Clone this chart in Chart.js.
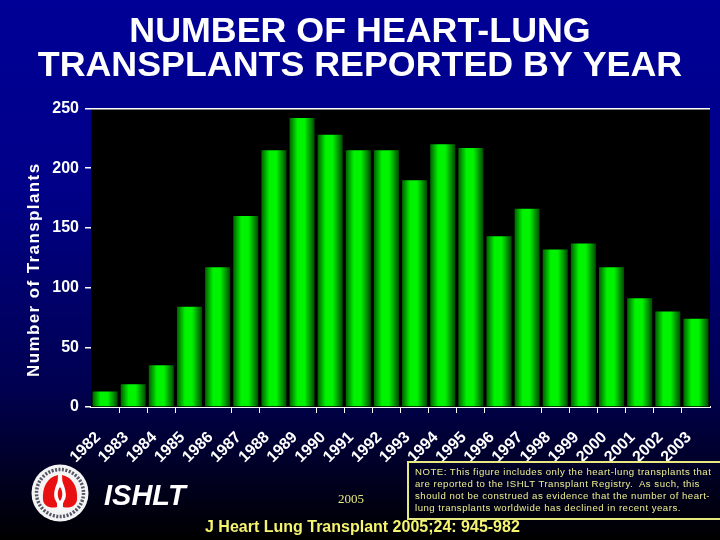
<!DOCTYPE html>
<html>
<head>
<meta charset="utf-8">
<title>Heart-lung transplants by year</title>
<script src="https://cdn.jsdelivr.net/npm/chart.js@4"></script>
<style>
    html, body { margin: 0; padding: 0; }
    body {
        width: 720px; height: 540px; overflow: hidden; position: relative;
        background: linear-gradient(to bottom, #000096 0%, #000088 35%, #000050 72%, #000000 100%);
        font-family: "Liberation Sans", Arial, sans-serif;
    }
    #wrap { position: absolute; left: 0; top: 0; width: 720px; height: 540px; }
    .txt { position: absolute; white-space: pre; }
    #ishlt { left: 104px; top: 479px; color: #fff; font: italic bold 29px "Liberation Sans"; }
    #year { left: 338px; top: 491px; color: #e8e880; font: 13px "Liberation Serif"; }
    #cite { left: 205px; top: 518px; color: #f4f470; font: bold 16px "Liberation Sans"; }
    #note {
        left: 407px; top: 461px; width: 307px; height: 52px; padding: 3px 0 0 6px;
        border: 2px solid #e8e880; color: #eeee90;
        font: 9.6px/12px "Liberation Sans"; letter-spacing: 0.5px;
    }
    #logo { position: absolute; left: 31px; top: 464px; }
</style>
</head>
<body>
<svg id="logo" width="58" height="58" viewBox="0 0 58 58">
    <circle cx="29" cy="29" r="28.5" fill="#f4f4f4"/>
    <circle cx="29" cy="29" r="23.5" fill="none" stroke="#556" stroke-width="3.5" stroke-dasharray="2 1.5"/>
    <path d="M27 11 C16 13 11 24 12 36 C13 42 19 45 26 43 L26 30 Z" fill="#e81010"/>
    <path d="M31 11 C42 13 47 24 46 36 C45 42 39 45 32 43 L32 30 Z" fill="#e81010"/>
    <path d="M29 13 C24 22 21 32 25 37 L29 47 L33 37 C37 32 34 22 29 13 Z" fill="#fff"/>
    <path d="M29 23 C26 27 26 33 29 37 C32 33 32 27 29 23 Z" fill="#e81010"/>
</svg>
<div id="wrap"><canvas id="myChart" width="720" height="540"></canvas></div>
<div class="txt" id="ishlt">ISHLT</div>
<div class="txt" id="year">2005</div>
<div class="txt" id="note">NOTE: This figure includes only the heart-lung transplants that
are reported to the ISHLT Transplant Registry.  As such, this
should not be construed as evidence that the number of heart-
lung transplants worldwide has declined in recent years.</div>
<div class="txt" id="cite">J Heart Lung Transplant 2005;24: 945-982</div>

<script>
    const aYears = ["1982","1983","1984","1985","1986","1987","1988","1989","1990","1991","1992",
                    "1993","1994","1995","1996","1997","1998","1999","2000","2001","2002","2003"];
    const aTransplants = [13,19,35,84,117,160,215,242,228,215,215,190,220,217,143,166,132,137,117,91,80,74];
    const aTitle = ["NUMBER OF HEART-LUNG", "TRANSPLANTS REPORTED BY YEAR"];
    const sYTitle = "Number of Transplants";
    const fBarWidth = 0.89;
    // tick marks the original leaves out along the bottom
    const aNoTick = [0, 4, 7, 15];

    // black plot background behind the bars
    const plotBackground = {
        id: "plotBackground",
        beforeDatasetsDraw(chart) {
            const a = chart.chartArea;
            chart.ctx.save();
            chart.ctx.fillStyle = "#000";
            chart.ctx.fillRect(a.left, a.top, a.width, a.height);
            chart.ctx.restore();
        }
    };

    // each bar fades to dark green at its two sides
    function barGradient(context) {
        const scale = context.chart.scales.x;
        if (!scale || !scale.width || context.dataIndex === undefined) return "#00c800";
        const x = scale.getPixelForValue(context.dataIndex);
        const half = scale.width / aYears.length * fBarWidth / 2;
        const g = context.chart.ctx.createLinearGradient(x - half, 0, x + half, 0);
        g.addColorStop(0, "#006000");
        g.addColorStop(0.32, "#00f400");
        g.addColorStop(0.6, "#00f400");
        g.addColorStop(1, "#004a00");
        return g;
    }

    const ctx = document.getElementById("myChart").getContext("2d");
    const myChart = new Chart(ctx, {
        type: "bar",
        data: {
            labels: aYears,
            datasets: [{
                label: sYTitle,
                data: aTransplants,
                backgroundColor: barGradient,
                barPercentage: fBarWidth,
                categoryPercentage: 1
            }]
        },
        plugins: [plotBackground],
        options: {
            responsive: false,
            animation: false,
            layout: { padding: { left: 10, right: 10, top: 0, bottom: 0 } },
            plugins: {
                legend: { display: false },
                tooltip: { enabled: false },
                title: {
                    display: true,
                    text: aTitle,
                    color: "#fff",
                    font: { family: "Liberation Sans", size: 35.8, weight: "bold", lineHeight: 0.95 },
                    padding: { top: 15, bottom: 25.5 }
                }
            },
            scales: {
                x: {
                    afterFit(axis) {
                        axis.height = 133;
                        axis.paddingLeft = 0;
                        axis.paddingRight = 0;
                    },
                    border: { color: "#fff", width: 2 },
                    grid: {
                        offset: true,
                        drawOnChartArea: false,
                        color: "#fff",
                        // the closing tick at the right end has no index
                        tickColor: c => (c.index === undefined || aNoTick.includes(c.index)) ? "rgba(0,0,0,0)" : "#fff",
                        tickLength: 6,
                        tickWidth: 1
                    },
                    ticks: {
                        color: "#fff",
                        maxRotation: 45,
                        minRotation: 45,
                        autoSkip: false,
                        padding: 15,
                        labelOffset: -7,
                        font: { family: "Liberation Sans", size: 16, weight: "bold" }
                    }
                },
                y: {
                    min: 0,
                    max: 250,
                    afterFit(axis) {
                        axis.width = 81;
                        // afterFit runs more than once, only wrap drawTitle the first time
                        if (axis.titleWrapped) return;
                        axis.titleWrapped = true;
                        // the axis title is letter-spaced and sits low in the original
                        const drawTitle = axis.drawTitle;
                        axis.drawTitle = function () {
                            const c = this.ctx;
                            c.save();
                            c.letterSpacing = "1.4px";
                            c.translate(0, 12);
                            drawTitle.call(this);
                            c.restore();
                        };
                    },
                    border: { display: false },
                    grid: {
                        color: c => c.tick.value === 250 ? "#fff" : "rgba(0,0,0,0)",
                        tickColor: "#fff",
                        tickLength: 6,
                        lineWidth: 1.5,
                        z: 1
                    },
                    ticks: {
                        stepSize: 50,
                        color: "#fff",
                        padding: 6,
                        font: { family: "Liberation Sans", size: 16, weight: "bold" }
                    },
                    title: {
                        display: true,
                        text: sYTitle,
                        color: "#fff",
                        font: { family: "Liberation Sans", size: 17, weight: "bold" },
                        padding: { top: 14, bottom: 0 }
                    }
                }
            }
        }
    });
</script>
</body>
</html>
